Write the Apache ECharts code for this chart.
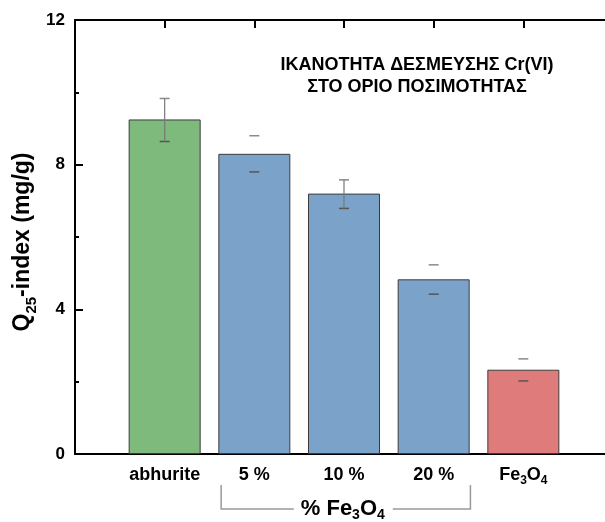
<!DOCTYPE html>
<html>
<head>
<meta charset="utf-8">
<script src="https://cdn.jsdelivr.net/npm/echarts@6/dist/echarts.min.js"></script>
<style>html,body{margin:0;padding:0;background:#fff}#c{width:605px;height:522px}</style>
</head>
<body>
<div id="c"></div>
<script>
const categories = ['abhurite', '5 %', '10 %', '20 %', 'Fe3O4'];
const values = [9.25, 8.3, 7.2, 4.83, 2.33];
const errLow = [8.64, 7.8, 6.79, 4.42, 2.02];
const errHigh = [9.83, 8.8, 7.58, 5.23, 2.63];
const showStem = [true, false, true, false, false];
const barColors = ['#7dba7c', '#7ba3c9', '#7ba3c9', '#7ba3c9', '#e07b7b'];
const yTicks = [0, 4, 8, 12];
const titleLines = ['ΙΚΑΝΟΤΗΤΑ ΔΕΣΜΕΥΣΗΣ Cr(VI)', 'ΣΤΟ ΟΡΙΟ ΠΟΣΙΜΟΤΗΤΑΣ'];
const bracketRange = [1.63, 4.41];

const FONT = '"Liberation Sans", Arial, sans-serif';
const chart = echarts.init(document.getElementById('c'), null, {renderer: 'canvas'});

function catLabel(v) {
  const i = Math.round(v) - 1;
  if (i < 0 || i >= categories.length || Math.abs(v - Math.round(v)) > 1e-6) return '';
  const c = categories[i];
  if (c === 'Fe3O4') return '{b|Fe}{s|3}{b|O}{s|4}';
  return '{b|' + c + '}';
}

const axisLineStyle = {color: '#000', width: 2};
const xAxisBase = {
  type: 'value', min: 0, max: categories.length + 1, interval: 1,
  axisLine: {show: true, onZero: false, lineStyle: axisLineStyle},
  axisTick: {show: true, inside: true, length: 8, lineStyle: {color: '#000', width: 2}},
  splitLine: {show: false}
};
const yAxisBase = {
  type: 'value', min: yTicks[0], max: yTicks[yTicks.length - 1], interval: yTicks[1] - yTicks[0],
  axisLine: {show: true, onZero: false, lineStyle: axisLineStyle},
  axisTick: {show: true, inside: true, length: 8, lineStyle: {color: '#000', width: 2}},
  minorTick: {show: true, splitNumber: 2, length: 4, lineStyle: {color: '#000', width: 2}},
  splitLine: {show: false}
};

const option = {
  animation: false,
  backgroundColor: '#fff',
  grid: {left: 75, top: 20, right: -8, bottom: 68, containLabel: false, outerBoundsMode: 'none'},
  xAxis: [
    Object.assign({}, xAxisBase, {
      position: 'bottom',
      axisLabel: {
        show: true, margin: 12, formatter: catLabel,
        rich: {
          b: {fontSize: 18, fontWeight: 'bold', fontFamily: FONT, color: '#000', lineHeight: 20, verticalAlign: 'top'},
          s: {fontSize: 12, fontWeight: 'bold', fontFamily: FONT, color: '#000', lineHeight: 12, padding: [9, 0, 0, 0], verticalAlign: 'top'}
        }
      }
    }),
    Object.assign({}, xAxisBase, {position: 'top', axisLabel: {show: false}})
  ],
  yAxis: [
    Object.assign({}, yAxisBase, {
      position: 'left',
      axisLabel: {show: true, margin: 10, fontSize: 17, fontWeight: 'bold', fontFamily: FONT, color: '#000'},
      name: '{q|Q}{s|25}{q|-index (mg/g)}',
      nameLocation: 'middle', nameGap: 38, nameRotate: 90, nameMoveOverlap: false,
      nameTextStyle: {
        padding: [0, 10, 0, 0],
        rich: {
          q: {fontSize: 23, fontWeight: 'bold', fontFamily: FONT, color: '#000', lineHeight: 26, verticalAlign: 'top'},
          s: {fontSize: 15, fontWeight: 'bold', fontFamily: FONT, color: '#000', lineHeight: 15, padding: [13, 0, 0, 0], verticalAlign: 'top'}
        }
      }
    }),
    Object.assign({}, yAxisBase, {position: 'right', axisLabel: {show: false}})
  ],
  series: [
    {
      type: 'bar', xAxisIndex: 0, yAxisIndex: 0, barWidth: 72,
      data: values.map((v, i) => ({value: [i + 1, v], itemStyle: {color: barColors[i], borderColor: '#3c3c3c', borderWidth: 1}})),
      z: 2
    },
    {
      type: 'custom', xAxisIndex: 0, yAxisIndex: 0, z: 5,
      data: values.map((v, i) => [i + 1, errLow[i], errHigh[i], showStem[i] ? 1 : 0]),
      renderItem: function (params, api) {
        const x = api.value(0);
        const lo = api.coord([x, api.value(1)]);
        const hi = api.coord([x, api.value(2)]);
        const hw = 5;
        const st = {stroke: '#555', lineWidth: 1.5};
        const children = [
          {type: 'line', shape: {x1: lo[0] - hw, y1: lo[1], x2: lo[0] + hw, y2: lo[1]}, style: st},
          {type: 'line', shape: {x1: hi[0] - hw, y1: hi[1], x2: hi[0] + hw, y2: hi[1]}, style: Object.assign({}, st, {stroke: '#8a8a8a'})}
        ];
        if (api.value(3)) {
          children.push({type: 'line', shape: {x1: lo[0], y1: lo[1], x2: hi[0], y2: hi[1]}, style: {stroke: '#777', lineWidth: 1.2}});
        }
        return {type: 'group', children: children};
      }
    }
  ]
};
chart.setOption(option);

const pL = chart.convertToPixel({xAxisIndex: 0}, bracketRange[0]);
const pR = chart.convertToPixel({xAxisIndex: 0}, bracketRange[1]);
const mid = (pL + pR) / 2;
const yTop = 485, yBot = 509;
chart.setOption({
  graphic: [
    {type: 'text', x: 417, y: 65, style: {text: titleLines[0], fill: '#000', font: 'bold 18px ' + FONT, textAlign: 'center', textVerticalAlign: 'middle'}},
    {type: 'text', x: 417, y: 87, style: {text: titleLines[1], fill: '#000', font: 'bold 18px ' + FONT, textAlign: 'center', textVerticalAlign: 'middle'}},
    {type: 'polyline', shape: {points: [[pL, yTop], [pL, yBot], [mid - 52, yBot]]}, style: {stroke: '#999', lineWidth: 1.5, fill: null}},
    {type: 'polyline', shape: {points: [[mid + 47, yBot], [pR, yBot], [pR, yTop]]}, style: {stroke: '#999', lineWidth: 1.5, fill: null}},
    {type: 'text', x: mid - 3, y: 498, style: {
      text: '{b|% Fe}{s|3}{b|O}{s|4}', textAlign: 'center', textVerticalAlign: 'top',
      rich: {
        b: {fontSize: 22, fontWeight: 'bold', fontFamily: FONT, fill: '#000', lineHeight: 22, verticalAlign: 'top'},
        s: {fontSize: 14, fontWeight: 'bold', fontFamily: FONT, fill: '#000', lineHeight: 14, padding: [10, 0, 0, 0], verticalAlign: 'top'}
      }
    }}
  ]
});
</script>
</body>
</html>
